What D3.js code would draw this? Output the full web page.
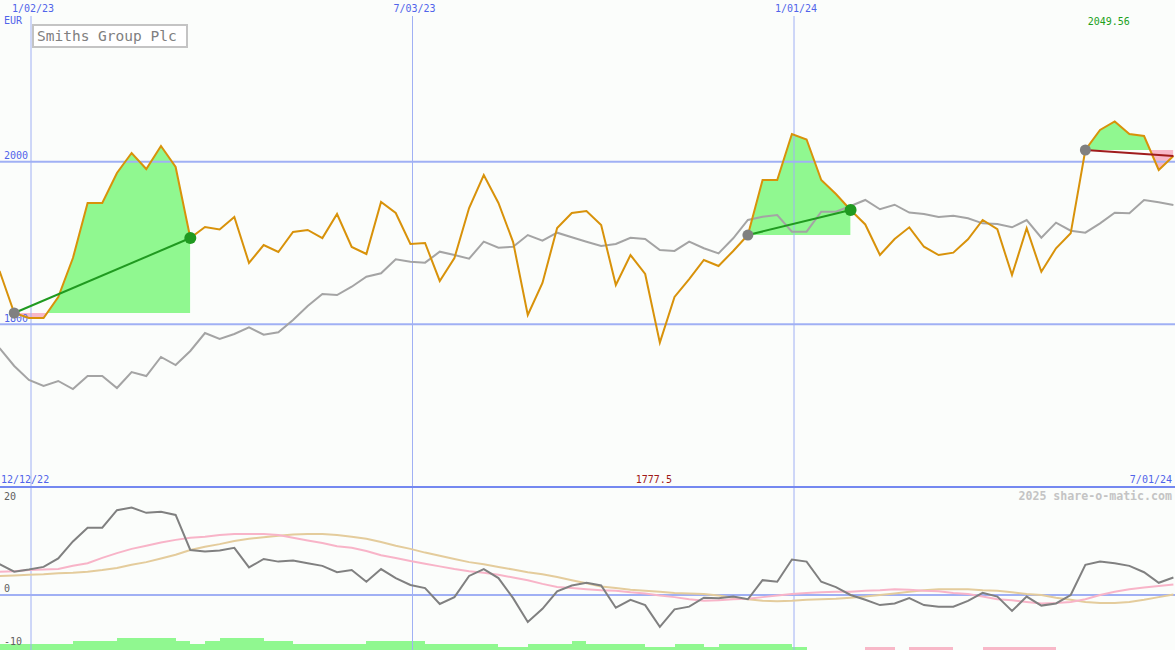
<!DOCTYPE html>
<html>
<head>
<meta charset="utf-8">
<script src="https://cdn.jsdelivr.net/npm/d3@7"></script>
<style>
  body { margin: 0; background: #fbfdfb; }
  svg { display: block; }
  text { font-family: "DejaVu Sans Mono", monospace; }
</style>
</head>
<body>
<svg></svg>
<script>
// weekly closes, Smiths Group Plc (EUR)
var closes = [1865.6,1813.9,1807.7,1807.7,1833.6,1881.5,1949.2,1949.2,1986.1,2010.7,
  1991,2019.3,1993.5,1906.1,1919.7,1916.6,1932,1875.4,1897.5,1888.9,
  1913.5,1916,1906.1,1935.7,1895.1,1886.5,1950.4,1936.9,1898.8,1900,
  1853.3,1881.5,1943,1983.6,1949.2,1901.2,1811.4,1850.8,1918.5,1936.9,
  1939.4,1922.1,1848.3,1885.2,1861.9,1777.5,1833.6,1855.7,1879.1,1871.7,
  1890.2,1909.8,1977.5,1977.5,2034.1,2027.3,1977.5,1960.3,1940.6,1922.8,
  1885.2,1904.9,1919.3,1895.4,1885.2,1888.1,1904.6,1928.3,1916.9,1860.6,
  1918.1,1864.7,1893.5,1911.9,2014.4,2039,2049.56,2034.1,2031.6,1989.8,
  2007];

// comparison line (grey)
var market = [1770.8,1748.7,1731.5,1724.1,1730.3,1720.4,1736.4,1736.4,1721.6,1741.3,
  1736.4,1759.8,1749.9,1767.2,1789.3,1781.9,1788.1,1796.3,1787.2,1790.2,
  1805.3,1822.5,1837.3,1836,1846.2,1858.5,1862.7,1880,1877,1875.8,
  1889.3,1885.2,1880.7,1901.6,1894.2,1895.4,1909.8,1902.8,1912.7,1907,
  1901.6,1896.3,1898.8,1906.5,1904.9,1891.4,1890.2,1901.6,1893.5,1887.3,
  1905.8,1928.3,1932.3,1934.4,1913.9,1913.9,1938.5,1938.5,1945.5,1952.9,
  1941.5,1947.1,1937.5,1935.7,1932,1933.6,1930.4,1924.2,1923.4,1919.3,
  1928.3,1906.5,1925,1915.1,1912.7,1924.2,1937.3,1936.5,1952.9,1950.1,
  1946.7];

// lower panel
var momentum = [5.8,4.4,4.8,5.3,6.9,10.1,12.7,12.7,16.0,16.5,
  15.5,15.7,15.1,8.5,8.2,8.4,8.9,5.2,6.8,6.3,
  6.5,6.0,5.5,4.3,4.7,2.5,4.9,3.2,1.9,1.3,
  -1.7,-0.4,3.6,4.9,3.2,-0.6,-5.1,-2.6,0.7,1.8,
  2.3,1.8,-2.4,-0.9,-1.9,-6.0,-2.7,-2.2,-0.5,-0.6,
  -0.3,-0.8,2.8,2.5,6.7,6.3,2.5,1.5,0,-0.9,
  -1.9,-1.6,-0.6,-1.9,-2.2,-2.2,-1.1,0.4,-0.3,-3.0,
  -0.3,-2.0,-1.6,0,5.7,6.3,6.0,5.5,4.3,2.3,
  3.3];

var signalFast = [4.4,4.5,4.7,4.8,4.9,5.5,6.0,7.0,7.9,8.7,
  9.3,9.9,10.4,10.8,11.0,11.3,11.5,11.5,11.5,11.3,
  10.8,10.3,9.8,9.2,8.9,8.3,7.5,7.0,6.4,5.9,
  5.4,4.9,4.5,4.2,3.8,3.3,2.8,2.1,1.5,1.3,
  1.1,0.9,0.8,0.5,0.3,-0.1,-0.4,-0.8,-1.1,-1.0,
  -0.8,-0.7,-0.4,-0.1,0.2,0.4,0.5,0.6,0.6,0.8,
  0.9,1.1,1.0,0.8,0.7,0.4,0.2,-0.3,-0.8,-1.0,
  -1.3,-1.6,-1.5,-1.3,-0.8,0,0.6,1.1,1.4,1.7,
  2.0];

var signalSlow = [3.6,3.7,3.8,3.9,4.1,4.2,4.4,4.7,5.1,5.7,
  6.2,6.9,7.6,8.5,9.1,9.6,10.2,10.6,10.9,11.2,
  11.4,11.5,11.5,11.3,11.0,10.6,10.0,9.3,8.7,8.0,
  7.4,6.8,6.2,5.8,5.3,4.8,4.3,3.9,3.4,2.8,
  2.2,1.6,1.3,1.0,0.8,0.6,0.4,0.3,0.2,-0.1,
  -0.5,-0.8,-1.1,-1.2,-1.1,-0.9,-0.8,-0.7,-0.5,-0.3,
  0,0.3,0.6,0.9,1.1,1.1,1.1,0.9,0.8,0.5,
  0.2,0,-0.5,-0.9,-1.3,-1.5,-1.5,-1.3,-0.9,-0.4,
  0.1];

var strength = [2,2,2,2,2,3,3,3,4,4,
  4,4,3,2,3,4,4,4,3,3,
  2,2,2,2,2,3,3,3,3,2,
  2,2,2,2,1,1,2,2,2,3,
  2,2,2,2,1,1,2,2,1,2,
  2,2,2,2,1,0,0,0,0,-1,
  -1,0,-1,-1,-1,0,0,-1,-1,-1,
  -1,-1,0,0,0,0,0,0,0,0,
  0];

// trend runs (index of start week, index of end week)
var trendStart = [1, 51, 74];
var trendEnd = [13, 58, 80];
var trendOpen = [false, false, true];

var topTicks = ["2023-01-02", "2023-07-03", "2024-01-01"];
var firstLabel = "2022-12-12";
var lastLabel = "2024-07-01";
var priceTicks = [1800, 2000];
var lowerTicks = [20, 0, -10];

var width = 1175;
var height = 650;

var parse = d3.timeParse("%Y-%m-%d");
var fmt = d3.timeFormat("%-m/%d/%y");
var firstWeek = parse("2022-12-18");
var dates = closes.map(function(c, i){ return d3.timeDay.offset(firstWeek, 7 * i); });

var data = closes.map(function(c, i){
  return {date: dates[i], close: c, market: market[i], mom: momentum[i],
          fast: signalFast[i], slow: signalSlow[i], bar: strength[i]};
});

var svg = d3.select("svg").attr("width", width).attr("height", height);

var x = d3.scaleTime()
          .domain([parse("2023-01-02"), parse("2024-07-01")])
          .range([31, 1175.5]);
var y = d3.scaleLinear().domain([1800, 2000]).range([324.3, 161.7]);
var yLow = d3.scaleLinear().domain([-10, 20]).range([648, 489]);
var yBar = d3.scaleLinear().domain([0, 4]).range([650, 638]);

svg.append("rect").attr("width", width).attr("height", height).attr("fill", "#fbfdfb");

// ---- trend fills ----
var defs = svg.append("defs");
trendStart.forEach(function(s, k){
  var e = trendEnd[k];
  var base = closes[s];
  var seg = data.slice(s, e + 1);
  var x0 = x(dates[s]), x1 = x(dates[e]);
  defs.append("clipPath").attr("id", "up" + k).append("rect")
      .attr("x", x0).attr("y", 0).attr("width", x1 - x0).attr("height", y(base));
  defs.append("clipPath").attr("id", "dn" + k).append("rect")
      .attr("x", x0).attr("y", y(base)).attr("width", x1 - x0).attr("height", height);
  var area = d3.area()
               .x(function(d){ return x(d.date); })
               .y0(y(base))
               .y1(function(d){ return y(d.close); });
  svg.append("path").datum(seg).attr("d", area).attr("fill", "#90f890")
     .attr("clip-path", "url(#up" + k + ")");
  svg.append("path").datum(seg).attr("d", area).attr("fill", "#f8b8c8")
     .attr("clip-path", "url(#dn" + k + ")");
});

// ---- lower panel bars ----
svg.selectAll("rect.bar")
   .data(data.filter(function(d){ return d.bar != 0; }))
   .enter()
   .append("rect")
   .attr("class", "bar")
   .attr("x", function(d){ return x(d.date); })
   .attr("y", function(d){ return yBar(Math.abs(d.bar)); })
   .attr("width", function(d){ return x(d3.timeDay.offset(d.date, 7)) - x(d.date); })
   .attr("height", function(d){ return yBar(0) - yBar(Math.abs(d.bar)); })
   .attr("fill", function(d){ return d.bar > 0 ? "#90f890" : "#f8b8c8"; })
   .attr("shape-rendering", "crispEdges");

// ---- grid ----
topTicks.forEach(function(t){
  svg.append("line")
     .attr("x1", x(parse(t))).attr("x2", x(parse(t)))
     .attr("y1", 16).attr("y2", height)
     .attr("stroke", "#a0b0f4").attr("stroke-width", 1);
});
priceTicks.forEach(function(v){
  svg.append("line").attr("x1", 0).attr("x2", width)
     .attr("y1", y(v)).attr("y2", y(v))
     .attr("stroke", "#a0b0f4").attr("stroke-width", 2);
  svg.append("text").attr("x", 4).attr("y", y(v) - 2.5)
     .attr("font-size", 10).attr("fill", "#5064ea").text(v);
});
svg.append("line").attr("x1", 0).attr("x2", width).attr("y1", 487).attr("y2", 487)
   .attr("stroke", "#7488f0").attr("stroke-width", 2);
svg.append("line").attr("x1", 0).attr("x2", width)
   .attr("y1", yLow(0)).attr("y2", yLow(0))
   .attr("stroke", "#a0b0f4").attr("stroke-width", 2);

// date labels
svg.selectAll("text.top")
   .data(topTicks)
   .enter()
   .append("text")
   .attr("x", function(d){ return x(parse(d)) + 2; })
   .attr("y", 12)
   .attr("text-anchor", "middle")
   .attr("font-size", 10)
   .attr("fill", "#5064ea")
   .text(function(d){ return fmt(parse(d)); });

svg.append("text").attr("x", 4).attr("y", 24).attr("font-size", 10)
   .attr("fill", "#5064ea").text("EUR");
svg.append("text").attr("x", 1).attr("y", 483).attr("font-size", 10)
   .attr("fill", "#5064ea").text(fmt(parse(firstLabel)));
svg.append("text").attr("x", 1172).attr("y", 483).attr("font-size", 10)
   .attr("text-anchor", "end").attr("fill", "#5064ea").text(fmt(parse(lastLabel)));

// hi / lo
var hi = d3.maxIndex(closes), lo = d3.minIndex(closes);
svg.append("text").attr("x", x(dates[hi]) - 6).attr("y", 25)
   .attr("text-anchor", "middle").attr("font-size", 10).attr("fill", "#20a020")
   .text(closes[hi]);
svg.append("text").attr("x", x(dates[lo]) - 6).attr("y", 483)
   .attr("text-anchor", "middle").attr("font-size", 10).attr("fill", "#a01818")
   .text(closes[lo]);

svg.append("text").attr("x", 1172).attr("y", 500)
   .attr("text-anchor", "end").attr("font-size", 11.6).attr("font-weight", "bold")
   .attr("fill", "#c4c4c4").text("2025 share-o-matic.com");

lowerTicks.forEach(function(v){
  svg.append("text").attr("x", 4).attr("y", v == 20 ? 500 : yLow(v) - 3)
     .attr("font-size", 10).attr("fill", "#606060").text(v);
});

// ---- lines ----
function lineOf(key, sc){
  return d3.line()
           .x(function(d){ return x(d.date); })
           .y(function(d){ return sc(d[key]); });
}

svg.append("path").datum(data).attr("d", lineOf("slow", yLow))
   .attr("fill", "none").attr("stroke", "#e4cc9c").attr("stroke-width", 2);
svg.append("path").datum(data).attr("d", lineOf("fast", yLow))
   .attr("fill", "none").attr("stroke", "#f8b4c8").attr("stroke-width", 2);
svg.append("path").datum(data).attr("d", lineOf("mom", yLow))
   .attr("fill", "none").attr("stroke", "#808080").attr("stroke-width", 2);

svg.append("path").datum(data).attr("d", lineOf("market", y))
   .attr("fill", "none").attr("stroke", "#a4a4a4").attr("stroke-width", 2);
svg.append("path").datum(data).attr("d", lineOf("close", y))
   .attr("fill", "none").attr("stroke", "#d8920a").attr("stroke-width", 2);

// trend lines + markers
trendStart.forEach(function(s, k){
  var e = trendEnd[k];
  var up = closes[e] >= closes[s];
  svg.append("line")
     .attr("x1", x(dates[s])).attr("y1", y(closes[s]))
     .attr("x2", x(dates[e])).attr("y2", y(closes[e]))
     .attr("stroke", up ? "#209a20" : "#a01c1c").attr("stroke-width", 2);
  svg.append("circle").attr("cx", x(dates[s])).attr("cy", y(closes[s]))
     .attr("r", 5.5).attr("fill", "#808080");
  if (!trendOpen[k]) {
    svg.append("circle").attr("cx", x(dates[e])).attr("cy", y(closes[e]))
       .attr("r", 6).attr("fill", "#209a20");
  }
});

// title
svg.append("rect").attr("x", 33).attr("y", 25).attr("width", 154).attr("height", 22)
   .attr("fill", "#ffffff").attr("stroke", "#c4c4c4").attr("stroke-width", 2);
svg.append("text").attr("x", 37).attr("y", 41).attr("font-size", 14.5)
   .attr("fill", "#808080").text("Smiths Group Plc");
</script>
</body>
</html>
